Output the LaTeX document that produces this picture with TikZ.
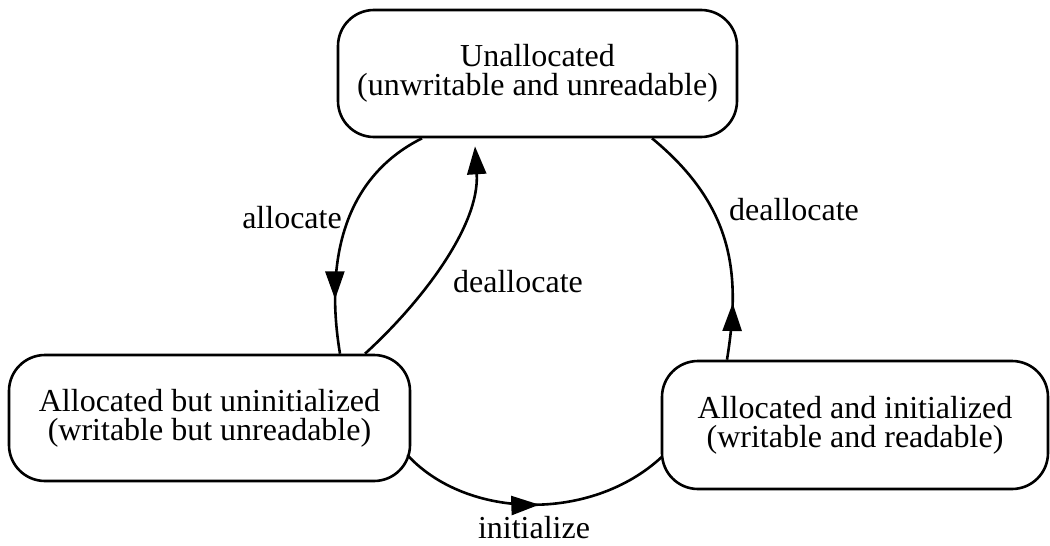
\documentclass[tikz,border=0pt]{standalone}
\usepackage{fontspec}
\setmainfont{Liberation Serif}
\usetikzlibrary{arrows.meta,calc,decorations.markings}

\begin{document}
\begin{tikzpicture}[x=0.5pt,y=-0.5pt,
          every node/.style={font=\fontsize{16}{14.5}\selectfont,inner sep=0pt},
          state/.style={draw,rectangle,rounded corners=18pt,line width=1.3pt,align=center},
          trans/.style={line width=1.3pt},
          tip/.style={-{Triangle[length=14pt,width=9.5pt]}},
          midtip/.style={postaction={decorate,decoration={markings,
              mark=at position #1 with {\arrow{Triangle[length=14pt,width=9.5pt]}}}}}]

                \useasboundingbox (0,0) rectangle (1050,546);

                % the three states
                \node[state,minimum width=199.5pt,minimum height=63.5pt] (unalloc) at (537.5,73.5)
                     {Unallocated\\(unwritable and unreadable)};
                \node[state,minimum width=200.5pt,minimum height=63pt] (alloc) at (209.5,418)
                     {Allocated but uninitialized\\(writable but unreadable)};
                \node[state,minimum width=193pt,minimum height=64pt] (init) at (855,425)
                     {Allocated and initialized\\(writable and readable)};

                % transition labels
                \node (allocate) at (292,218) {allocate};
                \node (deallocA) at (518,282) {deallocate};
                \node (deallocB) at (794,210) {deallocate};
                \node (initialize) at (534,528) {initialize};

                % transitions
                \draw[trans,midtip=0.78] ([xshift=-57.75pt]unalloc.south)
                     .. controls +(-80,40) and +(-15,-90) .. ([xshift=65.25pt]alloc.north);
                \draw[trans,tip] ([xshift=77.75pt]alloc.north)
                     .. controls +(55,-50) and +(5,80) .. ([xshift=-31.25pt,yshift=-4pt]unalloc.south);
                \draw[trans,midtip=0.23] ([xshift=-64pt]init.north)
                     .. controls +(13,-81) and +(85,70) .. ([xshift=57.25pt]unalloc.south);
                \draw[trans,midtip=0.52] ([xshift=-2pt,yshift=-18.5pt]alloc.east)
                     .. controls +(60,65) and +(-70,65) .. ([xshift=0.5pt,yshift=-16pt]init.west);
              \end{tikzpicture}
\end{document}
